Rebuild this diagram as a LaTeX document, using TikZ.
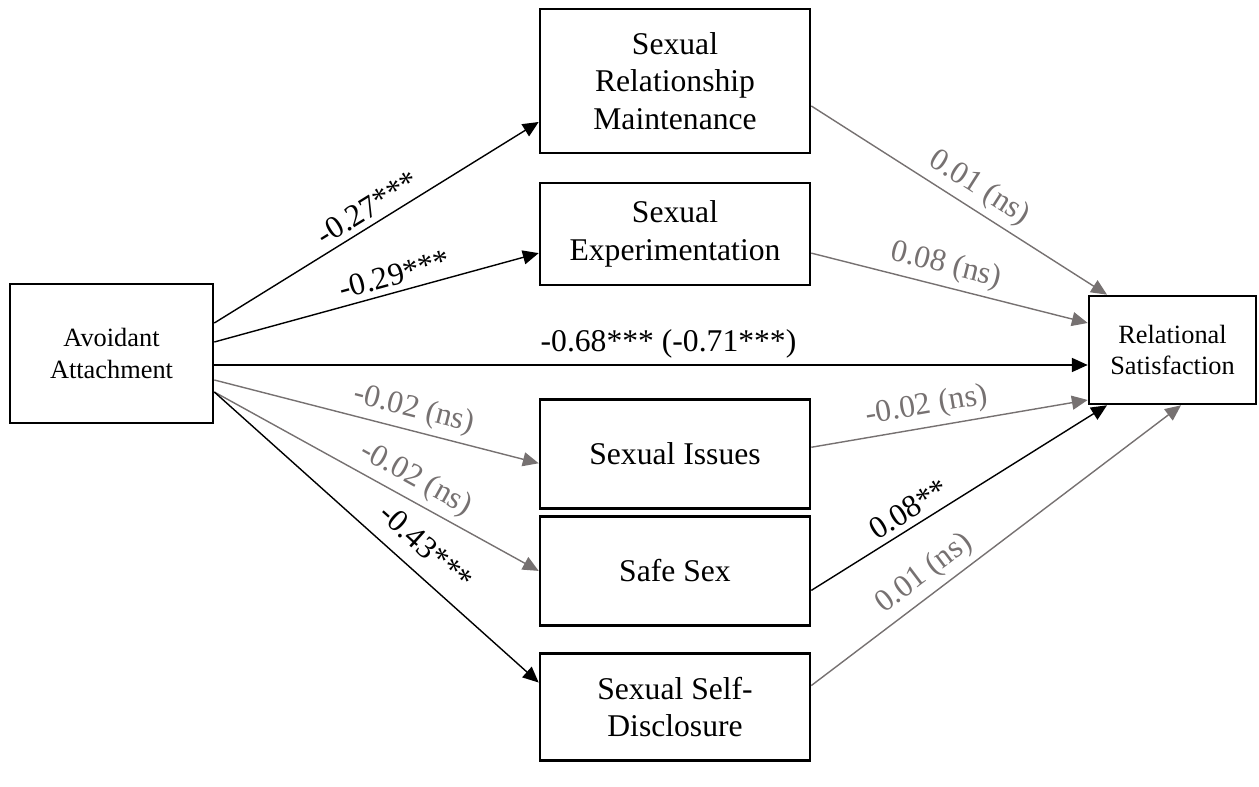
\documentclass[tikz,border=0pt]{standalone}
\usepackage{fontspec}
\setmainfont{Liberation Serif}
\usetikzlibrary{arrows.meta,positioning}
\definecolor{nsGray}{RGB}{118,113,113}
\tikzset{
  varbox/.style={
    rectangle, draw=black, line width=1.5pt, align=center, inner sep=2pt
  },
  medbox/.style={varbox, minimum width=5.4cm, font=\fontsize{18}{21.5}\selectfont},
  endbox/.style={varbox, font=\fontsize{15}{18}\selectfont},
  sigArrow/.style={-{Triangle[length=9pt,width=8pt]}, line width=0.8pt, black},
  nsArrow/.style={sigArrow, nsGray},
  coef/.style={sloped, above, font=\fontsize{18}{21}\selectfont}
}

\begin{document}
\begin{tikzpicture}
        \useasboundingbox (0,0) rectangle (25.18,15.74);
        % predictor and outcome
        \node[endbox, minimum width=4.06cm, minimum height=2.78cm] (aa)
          at (2.23,8.67) {Avoidant\\Attachment};
        \node[endbox, minimum width=3.34cm, minimum height=2.16cm] (rs)
          at (23.45,8.74) {Relational\\Satisfaction};
        % mediators
        \node[medbox, minimum height=2.88cm] (srm)
          at (13.5,14.12) {Sexual\\Relationship\\Maintenance};
        \node[medbox, minimum height=2.04cm, below=0.55cm of srm] (se)
          {Sexual\\Experimentation};
        \node[medbox, minimum height=2.18cm, below=2.23cm of se] (si)
          {Sexual Issues};
        \node[medbox, minimum height=2.18cm, below=0.11cm of si] (ss)
          {Safe Sex};
        \node[medbox, minimum height=2.14cm, below=0.51cm of ss] (ssd)
          {Sexual Self-\\Disclosure};
        % a paths
        \draw[sigArrow] ([yshift=0.61cm]aa.east) --
          node[coef, pos=0.5] {-0.27***} ([yshift=-0.82cm]srm.west);
        \draw[sigArrow] ([yshift=0.23cm]aa.east) --
          node[coef, pos=0.57] {-0.29***} ([yshift=-0.38cm]se.west);
        \draw[nsArrow] ([yshift=-0.53cm]aa.east) --
          node[coef, pos=0.6] {-0.02 (ns)} ([yshift=-0.19cm]si.west);
        \draw[nsArrow] ([yshift=-0.77cm]aa.east) --
          node[coef, pos=0.59] {-0.02 (ns)} (ss.west);
        \draw[sigArrow] ([yshift=-0.77cm]aa.east) --
          node[coef, pos=0.6, above=5pt] {-0.43***} ([yshift=0.49cm]ssd.west);
        % direct path
        \draw[sigArrow] ([yshift=-0.23cm]aa.east) --
          node[coef, pos=0.52] {-0.68*** (-0.71***)} ([yshift=-0.3cm]rs.west);
        % b paths
        \draw[nsArrow] ([yshift=-0.5cm]srm.east) --
          node[coef, pos=0.53] {0.01 (ns)} ([xshift=-1.31cm]rs.north);
        \draw[nsArrow] ([yshift=-0.38cm]se.east) --
          node[coef, pos=0.47] {0.08 (ns)} ([yshift=0.54cm]rs.west);
        \draw[nsArrow] ([yshift=0.13cm]si.east) --
          node[coef, pos=0.43] {-0.02 (ns)} ([yshift=-1.0cm]rs.west);
        \draw[sigArrow] ([yshift=-0.39cm]ss.east) --
          node[coef, pos=0.36] {0.08**} ([xshift=-1.31cm]rs.south);
        \draw[nsArrow] ([yshift=0.43cm]ssd.east) --
          node[coef, pos=0.34] {0.01 (ns)} ([xshift=0.17cm]rs.south);
      \end{tikzpicture}
\end{document}
